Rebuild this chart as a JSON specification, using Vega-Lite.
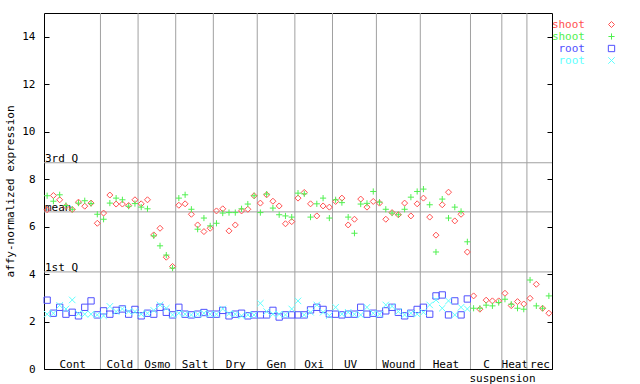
{
  "$schema": "https://vega.github.io/schema/vega-lite/v6.json",
  "autosize": {"type": "none"},
  "padding": {"left": 44, "top": 13, "right": 88, "bottom": 15},
  "width": 508,
  "height": 356,
  "background": "white",
  "config": {
    "view": {"stroke": "black", "strokeWidth": 1},
    "font": "DejaVu Sans Mono",
    "axis": {"labelFont": "DejaVu Sans Mono", "titleFont": "DejaVu Sans Mono", "labelFontSize": 11, "titleFontSize": 11, "titleFontWeight": "normal", "labelColor": "black", "titleColor": "black", "tickColor": "black", "domainColor": "black"}
  },
  "datasets": {
    "expr": [
      {"i":1,"s1":6.71,"s2":7.30,"r1":2.90,"r2":2.31},
      {"i":2,"s1":7.31,"s2":7.07,"r1":2.35,"r2":2.35},
      {"i":3,"s1":7.13,"s2":7.34,"r1":2.60,"r2":2.68},
      {"i":4,"s1":6.85,"s2":6.89,"r1":2.31,"r2":2.53},
      {"i":5,"s1":6.72,"s2":6.73,"r1":2.39,"r2":2.91},
      {"i":6,"s1":7.03,"s2":6.99,"r1":2.24,"r2":2.33},
      {"i":7,"s1":6.86,"s2":7.09,"r1":2.60,"r2":2.31},
      {"i":8,"s1":6.99,"s2":6.97,"r1":2.87,"r2":2.31},
      {"i":9,"s1":6.14,"s2":6.52,"r1":2.28,"r2":2.28},
      {"i":10,"s1":6.57,"s2":6.31,"r1":2.45,"r2":2.24},
      {"i":11,"s1":7.33,"s2":6.99,"r1":2.31,"r2":2.64},
      {"i":12,"s1":6.95,"s2":7.20,"r1":2.47,"r2":2.42},
      {"i":13,"s1":6.95,"s2":7.13,"r1":2.53,"r2":2.53},
      {"i":14,"s1":6.89,"s2":6.86,"r1":2.31,"r2":2.42},
      {"i":15,"s1":7.13,"s2":6.97,"r1":2.51,"r2":2.42},
      {"i":16,"s1":6.96,"s2":6.82,"r1":2.24,"r2":2.31},
      {"i":17,"s1":7.13,"s2":6.75,"r1":2.35,"r2":2.35},
      {"i":18,"s1":5.65,"s2":5.61,"r1":2.31,"r2":2.47},
      {"i":19,"s1":5.93,"s2":5.19,"r1":2.60,"r2":2.70},
      {"i":20,"s1":4.71,"s2":4.80,"r1":2.39,"r2":2.56},
      {"i":21,"s1":4.32,"s2":4.25,"r1":2.28,"r2":2.28},
      {"i":22,"s1":6.90,"s2":7.20,"r1":2.60,"r2":2.35},
      {"i":23,"s1":6.96,"s2":7.34,"r1":2.31,"r2":2.31},
      {"i":24,"s1":6.52,"s2":6.73,"r1":2.28,"r2":2.28},
      {"i":25,"s1":6.07,"s2":5.89,"r1":2.31,"r2":2.31},
      {"i":26,"s1":5.79,"s2":6.36,"r1":2.38,"r2":2.35},
      {"i":27,"s1":5.93,"s2":6.03,"r1":2.31,"r2":2.31},
      {"i":28,"s1":6.66,"s2":6.14,"r1":2.31,"r2":2.31},
      {"i":29,"s1":6.75,"s2":6.57,"r1":2.47,"r2":2.53},
      {"i":30,"s1":5.82,"s2":6.59,"r1":2.24,"r2":2.33},
      {"i":31,"s1":6.07,"s2":6.59,"r1":2.31,"r2":2.31},
      {"i":32,"s1":6.66,"s2":6.75,"r1":2.35,"r2":2.24},
      {"i":33,"s1":6.73,"s2":6.95,"r1":2.24,"r2":2.28},
      {"i":34,"s1":7.30,"s2":7.30,"r1":2.28,"r2":2.28},
      {"i":35,"s1":6.99,"s2":6.59,"r1":2.28,"r2":2.77},
      {"i":36,"s1":7.34,"s2":7.37,"r1":2.28,"r2":2.42},
      {"i":37,"s1":7.07,"s2":6.78,"r1":2.47,"r2":2.31},
      {"i":38,"s1":6.87,"s2":6.50,"r1":2.19,"r2":2.31},
      {"i":39,"s1":6.12,"s2":6.45,"r1":2.28,"r2":2.28},
      {"i":40,"s1":6.21,"s2":6.40,"r1":2.28,"r2":2.53},
      {"i":41,"s1":7.20,"s2":7.41,"r1":2.28,"r2":2.87},
      {"i":42,"s1":7.44,"s2":7.38,"r1":2.28,"r2":2.28},
      {"i":43,"s1":6.96,"s2":6.40,"r1":2.49,"r2":2.39},
      {"i":44,"s1":6.45,"s2":6.96,"r1":2.60,"r2":2.70},
      {"i":45,"s1":6.87,"s2":7.20,"r1":2.51,"r2":2.39},
      {"i":46,"s1":6.82,"s2":6.36,"r1":2.32,"r2":2.25},
      {"i":47,"s1":7.06,"s2":7.13,"r1":2.31,"r2":2.60},
      {"i":48,"s1":7.20,"s2":7.01,"r1":2.28,"r2":2.31},
      {"i":49,"s1":6.07,"s2":6.40,"r1":2.31,"r2":2.39},
      {"i":50,"s1":6.31,"s2":5.72,"r1":2.31,"r2":2.31},
      {"i":51,"s1":7.16,"s2":6.95,"r1":2.60,"r2":2.28},
      {"i":52,"s1":6.82,"s2":6.98,"r1":2.31,"r2":2.60},
      {"i":53,"s1":7.06,"s2":7.48,"r1":2.35,"r2":2.35},
      {"i":54,"s1":6.99,"s2":7.03,"r1":2.31,"r2":2.31},
      {"i":55,"s1":6.31,"s2":6.73,"r1":2.45,"r2":2.70},
      {"i":56,"s1":6.59,"s2":6.57,"r1":2.60,"r2":2.64},
      {"i":57,"s1":6.50,"s2":6.50,"r1":2.39,"r2":2.42},
      {"i":58,"s1":6.99,"s2":6.73,"r1":2.24,"r2":2.28},
      {"i":59,"s1":6.45,"s2":7.24,"r1":2.35,"r2":2.35},
      {"i":60,"s1":6.96,"s2":7.48,"r1":2.51,"r2":2.31},
      {"i":61,"s1":7.20,"s2":7.58,"r1":2.60,"r2":2.39},
      {"i":62,"s1":6.40,"s2":6.92,"r1":2.31,"r2":2.70},
      {"i":63,"s1":5.64,"s2":4.93,"r1":3.08,"r2":2.91},
      {"i":64,"s1":6.92,"s2":7.16,"r1":3.12,"r2":2.56},
      {"i":65,"s1":7.45,"s2":6.36,"r1":2.28,"r2":2.87},
      {"i":66,"s1":6.24,"s2":6.82,"r1":2.87,"r2":2.28},
      {"i":67,"s1":6.52,"s2":6.64,"r1":2.28,"r2":2.60},
      {"i":68,"s1":4.93,"s2":5.36,"r1":2.95,"r2":2.53},
      {"i":69,"s1":3.08,"s2":2.56,"r1":null,"r2":null},
      {"i":70,"s1":2.52,"s2":2.56,"r1":null,"r2":null},
      {"i":71,"s1":2.90,"s2":2.69,"r1":null,"r2":null},
      {"i":72,"s1":2.87,"s2":2.66,"r1":null,"r2":null},
      {"i":73,"s1":2.87,"s2":2.80,"r1":null,"r2":null},
      {"i":74,"s1":3.19,"s2":2.94,"r1":null,"r2":null},
      {"i":75,"s1":2.67,"s2":2.73,"r1":null,"r2":null},
      {"i":76,"s1":2.84,"s2":2.56,"r1":null,"r2":null},
      {"i":77,"s1":2.74,"s2":2.52,"r1":null,"r2":null},
      {"i":78,"s1":2.98,"s2":3.75,"r1":null,"r2":null},
      {"i":79,"s1":3.57,"s2":2.66,"r1":null,"r2":null},
      {"i":80,"s1":2.56,"s2":2.56,"r1":null,"r2":null},
      {"i":81,"s1":2.35,"s2":3.08,"r1":null,"r2":null}
    ],
    "bounds": [{"b":9.5},{"b":15.5},{"b":21.5},{"b":27.5},{"b":34.5},{"b":40.5},{"b":46.5},{"b":53.5},{"b":60.5},{"b":68.5},{"b":73.5},{"b":77.5}],
    "stats": [{"q":"3rd Q","v":8.69},{"q":"mean","v":6.62},{"q":"1st Q","v":4.09}]
  },
  "resolve": {"axis": {"x": "independent", "y": "independent"}},
  "layer": [
    {
      "data": {"name": "bounds"},
      "mark": {"type": "rule", "color": "#a0a0a0", "strokeWidth": 1},
      "encoding": {
        "x": {"field": "b", "type": "quantitative", "scale": {"domain": [0.5, 81.5], "nice": false, "zero": false}, "axis": null}
      }
    },
    {
      "data": {"name": "stats"},
      "mark": {"type": "rule", "color": "#a0a0a0", "strokeWidth": 1},
      "encoding": {
        "y": {"field": "v", "type": "quantitative", "scale": {"domain": [0, 15], "nice": false, "zero": true},
          "axis": {"orient": "right", "values": [0,2,4,6,8,10,12,14], "labels": false, "title": null, "grid": false, "domain": false, "tickSize": -5, "ticks": true}}
      }
    },
    {
      "data": {"name": "stats"},
      "mark": {"type": "text", "align": "left", "baseline": "alphabetic", "dx": 1, "dy": -1, "fontSize": 11, "font": "DejaVu Sans Mono", "color": "black"},
      "encoding": {
        "x": {"datum": 0.5, "type": "quantitative", "axis": null},
        "y": {"field": "v", "type": "quantitative", "axis": null},
        "text": {"field": "q"}
      }
    },
    {
      "data": {"name": "expr"},
      "transform": [{"fold": ["s1", "s2", "r1", "r2"], "as": ["series", "value"]}],
      "mark": {"type": "point", "filled": false, "strokeWidth": 1, "opacity": 1},
      "encoding": {
        "x": {"field": "i", "type": "quantitative",
          "axis": {"orient": "bottom", "values": [5, 12.5, 18.5, 24.5, 31, 37.5, 43.5, 49.3, 57, 64.5, 71, 75.5, 79.5],
            "labelExpr": "datum.value == 5 ? 'Cont' : datum.value == 12.5 ? 'Cold' : datum.value == 18.5 ? 'Osmo' : datum.value == 24.5 ? 'Salt' : datum.value == 31 ? 'Dry' : datum.value == 37.5 ? 'Gen' : datum.value == 43.5 ? 'Oxi' : datum.value < 50 ? 'UV' : datum.value == 57 ? 'Wound' : datum.value == 64.5 ? 'Heat' : datum.value == 71 ? 'C' : datum.value == 75.5 ? 'Heat' : 'rec'",
            "ticks": false, "grid": false, "domain": false, "labelPadding": -5, "labelBaseline": "middle", "labelFlush": false, "labelOverlap": false, "labelBound": false,
            "title": "suspension", "titleX": 458, "titleY": 9, "titleBaseline": "middle", "titleAnchor": "start", "titleAlign": "center"}},
        "y": {"field": "value", "type": "quantitative",
          "axis": {"orient": "left", "values": [0,2,4,6,8,10,12,14], "grid": false, "domain": false, "tickSize": -5, "labelPadding": 14, "title": "affy-normalized expression", "titleX": -34, "titleY": 178, "titleAngle": -90, "titleAlign": "center", "titleBaseline": "middle", "titleAnchor": "start"}},
        "color": {"field": "series", "type": "nominal",
          "scale": {"domain": ["s1", "s2", "r1", "r2"], "range": ["#ff5050", "#50f050", "#5050ff", "#60ffff"]},
          "legend": {"orient": "none", "legendX": 562, "legendY": 6, "title": null, "padding": 0, "rowPadding": 0,
            "labelFont": "DejaVu Sans Mono", "labelFontSize": 11, "labelAlign": "right", "labelOffset": -32,
            "labelExpr": "datum.value == 's1' || datum.value == 's2' ? 'shoot' : 'root'",
            "labelColor": {"expr": "datum.value == 's1' ? '#ff5050' : datum.value == 's2' ? '#50f050' : datum.value == 'r1' ? '#5050ff' : '#60ffff'"},
            "symbolStrokeWidth": 1}},
        "shape": {"field": "series", "type": "nominal",
          "scale": {"domain": ["s1", "s2", "r1", "r2"], "range": ["diamond", "M-1,0H1M0,-1V1", "square", "M-1,-1L1,1M-1,1L1,-1"]}},
        "size": {"field": "series", "type": "nominal",
          "scale": {"domain": ["s1", "s2", "r1", "r2"], "range": [36, 42, 30, 25]}},
        "order": {"field": "series"}
      }
    }
  ]
}
